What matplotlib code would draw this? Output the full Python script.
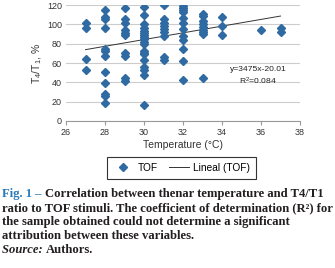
import numpy as np
import matplotlib.pyplot as plt

# T4/T1 (%) readings grouped by thenar temperature (deg C)
temp_27 = [101, 96, 64, 53]
temp_28 = [115, 108, 106, 96, 74, 72, 67, 51, 39, 28, 26, 19]
temp_29 = [117, 106, 101, 94, 91, 89, 70, 67, 45, 41]
temp_30 = [118, 110, 100, 96, 93, 91, 89, 87, 85, 82, 80, 72, 70, 69, 63, 56, 53, 48, 17]
temp_31 = [120, 106, 101, 98, 95, 92, 88, 66, 63]
temp_32 = [119, 117, 115, 113, 107, 101, 95, 88, 84, 74, 62, 42]
temp_33 = [111, 109, 103, 100, 97, 94, 92, 90, 44]
temp_34 = [108, 98, 89]
temp_36 = [94]
temp_37 = [96, 92]

groups = {27: temp_27, 28: temp_28, 29: temp_29, 30: temp_30, 31: temp_31,
          32: temp_32, 33: temp_33, 34: temp_34, 36: temp_36, 37: temp_37}

slope = 3.475
intercept = -20.01
fit_label = "y=3475x-20.01\nR$^2$=0.084"

x = []
y = []
for t, vals in groups.items():
    x += [t] * len(vals)
    y += vals
x = np.array(x)
y = np.array(y)

plt.rcParams['font.family'] = ['Liberation Sans', 'DejaVu Sans']
plt.rcParams['mathtext.default'] = 'regular'

fig = plt.figure(figsize=(3.35, 2.68), dpi=100)
ax = fig.add_axes([66 / 335, 1 - 121 / 268, 234 / 335, 116 / 268])

blue = '#2f6aa3'
ax.plot(x, y, 'D', color=blue, ms=4.4, mec=blue, label='TOF', zorder=3)
xl = np.array([x.min(), x.max()])
ax.plot(xl, slope * xl + intercept, color='#333333', lw=0.7, label='Lineal (TOF)', zorder=2)

ax.set_xlim(26, 38)
ax.set_ylim(0, 120)
ax.set_xticks(range(26, 39, 2))
ax.set_yticks(range(0, 121, 20))
ax.grid(axis='y', color='#cccccc', lw=0.8)
ax.set_axisbelow(True)
for s in ['top', 'right', 'left']:
    ax.spines[s].set_visible(False)
ax.spines['bottom'].set_color('#999999')
ax.tick_params(axis='x', length=3, color='#999999', labelsize=6.5, pad=2, labelcolor='#333333')
ax.tick_params(axis='y', length=0, labelsize=6.5, pad=3, labelcolor='#333333')
ax.set_xlabel('Temperature (°C)', fontsize=7.5, labelpad=2, color='#333333')
ax.set_ylabel('T$_4$/T$_1$, %', fontsize=7.5, labelpad=2, color='#333333')

ax.text(35.85, 35.5, fit_label, fontsize=6.1, ha='center', va='bottom', color='#222222',
        linespacing=1.3)

leg = ax.legend(loc='upper center', bbox_to_anchor=(0.493, -0.27), ncol=2, fontsize=7.3,
                frameon=True, fancybox=False, edgecolor='black', handlelength=2.0,
                columnspacing=1.1, borderpad=0.55, handletextpad=0.45)
leg.get_frame().set_linewidth(0.8)

# caption
cap = dict(family=['Liberation Serif', 'DejaVu Serif'], fontsize=9.1, fontweight='bold',
           color='#231f20', va='baseline')
y0 = 1 - 197 / 268
t1 = fig.text(0.006, y0, 'Fig. 1 \u2013 ', **{**cap, 'color': '#2a7ab8'})
lines = ['ratio to TOF stimuli. The coefficient of determination (R\u00b2) for',
         'the sample obtained could not determine a significant',
         'attribution between these variables.']
for i, line in enumerate(lines):
    fig.text(0.006, 1 - (211 + 14 * i) / 268, line, **cap)
ys = 1 - 253 / 268
ts = fig.text(0.006, ys, 'Source: ', **{**cap, 'style': 'italic'})
fig.canvas.draw()
bb = t1.get_window_extent()
fig.text(bb.x1 / fig.bbox.width, y0, 'Correlation between thenar temperature and T4/T1', **cap)
bs = ts.get_window_extent()
fig.text(bs.x1 / fig.bbox.width, ys, 'Authors.', **cap)

fig.savefig('out.png', dpi=100)
